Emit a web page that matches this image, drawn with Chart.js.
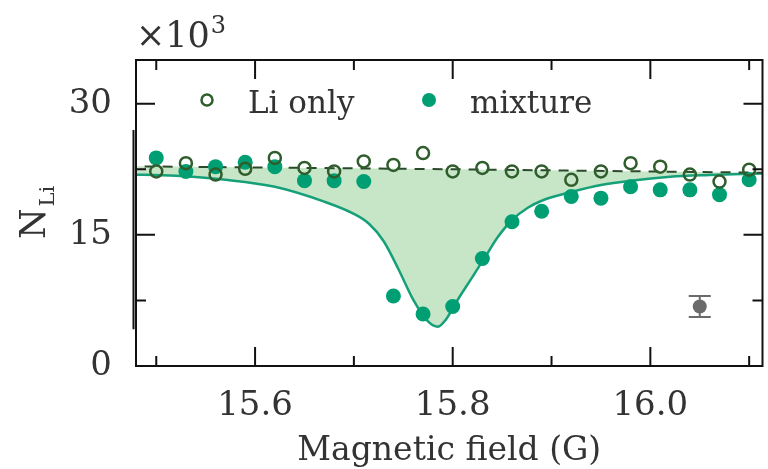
<!DOCTYPE html>
<html>
<head>
<meta charset="utf-8">
<script src="https://cdn.jsdelivr.net/npm/chart.js@4.4.1/dist/chart.umd.min.js"></script>
<style>
  html, body { margin: 0; padding: 0; overflow: hidden; background: #fff; }
</style>
</head>
<body>
<canvas id="fieldChart" width="771" height="469"></canvas>
<script>
// magnetic field of the scan points (G)
var fieldB = [15.50, 15.53, 15.56, 15.59, 15.62, 15.65, 15.68, 15.71, 15.74, 15.77, 15.80,
              15.83, 15.86, 15.89, 15.92, 15.95, 15.98, 16.01, 16.04, 16.07, 16.10];
// atom numbers, x10^3
var liOnly  = [22.25, 23.2, 21.9, 22.55, 23.8, 22.65, 22.25, 23.4, 23.0, 24.35, 22.25,
               22.65, 22.25, 22.25, 21.3, 22.25, 23.2, 22.8, 21.9, 21.1, 22.45];
var mixture = [23.8, 22.25, 22.8, 23.3, 22.8, 21.2, 21.2, 21.1, 8.0, 5.95, 6.8,
               12.3, 16.5, 17.7, 19.4, 19.2, 20.5, 20.15, 20.15, 19.6, 21.3];

// fitted curves
var fitLiB  = [15.47, 15.80, 16.12];
var fitLi   = [22.85, 22.5, 22.1];
var fitMixB = [15.47, 15.52, 15.57, 15.62, 15.67, 15.70, 15.715, 15.73, 15.745, 15.76, 15.775,
               15.785, 15.793, 15.803, 15.82, 15.833, 15.846, 15.86, 15.876, 15.89, 15.92,
               15.95, 15.98, 16.02, 16.06, 16.12];
var fitMix  = [21.9, 21.75, 21.3, 20.5, 18.8, 17.4, 16.3, 14.3, 11.1, 7.6, 5.1,
               4.5, 5.3, 7.2, 10.2, 12.5, 14.8, 16.7, 18.1, 18.9, 19.9,
               20.7, 21.2, 21.65, 21.85, 22.05];

// typical error bar
var refB = [16.05], refN = [6.8], refErr = [1.2];

// ticks
var xTicks = [15.5, 15.6, 15.7, 15.8, 15.9, 16.0, 16.1];
var xMajor = [15.6, 15.8, 16.0];
var yTicks = [0, 7.5, 15, 22.5, 30];
var yMajor = [0, 15, 30];

var serif = "'DejaVu Serif', serif";
var textCol = '#333';
var teal = '#009E73';
var darkGreen = '#2f5d2c';

function isMajor(list, v) {
  return list.some(function (m) { return Math.abs(m - v) < 1e-6; });
}
function pts(xs, ys) {
  return xs.map(function (x, i) { return { x: x, y: ys[i] }; });
}

// spines, inward ticks, legend, error bar and extra labels
var decorations = {
  id: 'decorations',
  afterDraw: function (chart) {
    var ctx = chart.ctx, ca = chart.chartArea;
    var xs = chart.scales.x, ys = chart.scales.y;
    ctx.save();

    // reference error bar
    ctx.strokeStyle = '#6b6b6b';
    ctx.fillStyle = '#6b6b6b';
    ctx.lineWidth = 2;
    refB.forEach(function (b, i) {
      var px = xs.getPixelForValue(b);
      var pTop = ys.getPixelForValue(refN[i] + refErr[i]);
      var pBot = ys.getPixelForValue(refN[i] - refErr[i]);
      ctx.beginPath();
      ctx.moveTo(px, pTop); ctx.lineTo(px, pBot);
      ctx.moveTo(px - 11, pTop); ctx.lineTo(px + 11, pTop);
      ctx.moveTo(px - 11, pBot); ctx.lineTo(px + 11, pBot);
      ctx.stroke();
      ctx.beginPath();
      ctx.arc(px, ys.getPixelForValue(refN[i]), 7, 0, Math.PI * 2);
      ctx.fill();
    });

    // frame
    ctx.strokeStyle = '#111';
    ctx.lineWidth = 2;
    ctx.strokeRect(ca.left, ca.top, ca.right - ca.left, ca.bottom - ca.top);
    ctx.beginPath();
    ctx.moveTo(ca.left - 2.5, ys.getPixelForValue(27));
    ctx.lineTo(ca.left - 2.5, ys.getPixelForValue(4.2));
    ctx.stroke();

    // ticks
    xTicks.forEach(function (v) {
      var px = xs.getPixelForValue(v);
      var len = isMajor(xMajor, v) ? 19 : 10;
      ctx.beginPath();
      ctx.moveTo(px, ca.bottom); ctx.lineTo(px, ca.bottom - len);
      ctx.moveTo(px, ca.top); ctx.lineTo(px, ca.top + len);
      ctx.stroke();
    });
    yTicks.forEach(function (v) {
      var py = ys.getPixelForValue(v);
      var len = isMajor(yMajor, v) ? 19 : 10;
      ctx.beginPath();
      ctx.moveTo(ca.left, py); ctx.lineTo(ca.left + len, py);
      ctx.moveTo(ca.right, py); ctx.lineTo(ca.right - len, py);
      ctx.stroke();
    });

    // legend
    ctx.strokeStyle = darkGreen;
    ctx.lineWidth = 2.5;
    ctx.beginPath();
    ctx.arc(207, 100, 5.5, 0, Math.PI * 2);
    ctx.stroke();
    ctx.fillStyle = teal;
    ctx.beginPath();
    ctx.arc(429, 100, 7, 0, Math.PI * 2);
    ctx.fill();
    ctx.fillStyle = textCol;
    ctx.font = '31px ' + serif;
    ctx.textBaseline = 'alphabetic';
    ctx.textAlign = 'left';
    ctx.fillText('Li only', 248, 113);
    ctx.fillText('mixture', 470, 113);

    // multiplier
    ctx.font = '35px ' + serif;
    ctx.fillText('\u00d710', 136, 47);
    var w = ctx.measureText('\u00d710').width;
    ctx.font = '24px ' + serif;
    ctx.fillText('3', 136 + w + 1, 33);

    // y title N_Li
    ctx.translate(45, 239);
    ctx.rotate(-Math.PI / 2);
    ctx.font = '35px ' + serif;
    ctx.fillText('N', 0, 0);
    var wn = ctx.measureText('N').width;
    ctx.font = '21px ' + serif;
    ctx.fillText('Li', wn + 2, 9);

    ctx.restore();
  }
};

new Chart(document.getElementById('fieldChart'), {
  type: 'scatter',
  data: {
    datasets: [
      {
        label: 'Li only',
        data: pts(fieldB, liOnly),
        pointRadius: 6,
        pointBorderWidth: 2.5,
        pointBorderColor: darkGreen,
        pointBackgroundColor: 'rgba(0,0,0,0)',
        showLine: false
      },
      {
        label: 'mixture',
        data: pts(fieldB, mixture),
        pointRadius: 7.5,
        pointBorderWidth: 0,
        pointBackgroundColor: teal,
        showLine: false
      },
      {
        label: 'Li only fit',
        data: pts(fitLiB, fitLi),
        showLine: true,
        pointRadius: 0,
        borderColor: '#2b4a2b',
        borderWidth: 2,
        borderDash: [10, 8]
      },
      {
        label: 'mixture fit',
        data: pts(fitMixB, fitMix),
        showLine: true,
        pointRadius: 0,
        borderColor: '#16a07a',
        borderWidth: 2.5,
        cubicInterpolationMode: 'monotone',
        backgroundColor: 'rgba(180,222,180,0.75)',
        fill: 2
      }
    ]
  },
  options: {
    responsive: false,
    animation: false,
    layout: { padding: { top: 60, right: 0, left: 0, bottom: 0 } },
    plugins: {
      legend: { display: false },
      tooltip: { enabled: false }
    },
    scales: {
      x: {
        type: 'linear',
        min: 15.4795,
        max: 16.1135,
        grid: { display: false, drawTicks: false },
        border: { display: false },
        afterFit: function (s) { s.height = 103; },
        afterBuildTicks: function (s) {
          s.ticks = xTicks.map(function (v) { return { value: v }; });
        },
        ticks: {
          padding: 20,
          autoSkip: false,
          maxRotation: 0,
          color: textCol,
          font: { family: serif, size: 34 },
          callback: function (v) { return isMajor(xMajor, v) ? v.toFixed(1) : ''; }
        },
        title: {
          display: true,
          text: 'Magnetic field (G)',
          color: textCol,
          font: { family: serif, size: 33 },
          padding: { top: 0, bottom: -2 }
        }
      },
      y: {
        min: 0,
        max: 35,
        grid: { display: false, drawTicks: false },
        border: { display: false },
        afterFit: function (s) { s.width = 136; },
        afterBuildTicks: function (s) {
          s.ticks = yTicks.map(function (v) { return { value: v }; });
        },
        ticks: {
          padding: 24,
          color: textCol,
          font: { family: serif, size: 34 },
          callback: function (v) { return isMajor(yMajor, v) ? String(v) : ''; }
        }
      }
    }
  },
  plugins: [decorations]
});
</script>
</body>
</html>
